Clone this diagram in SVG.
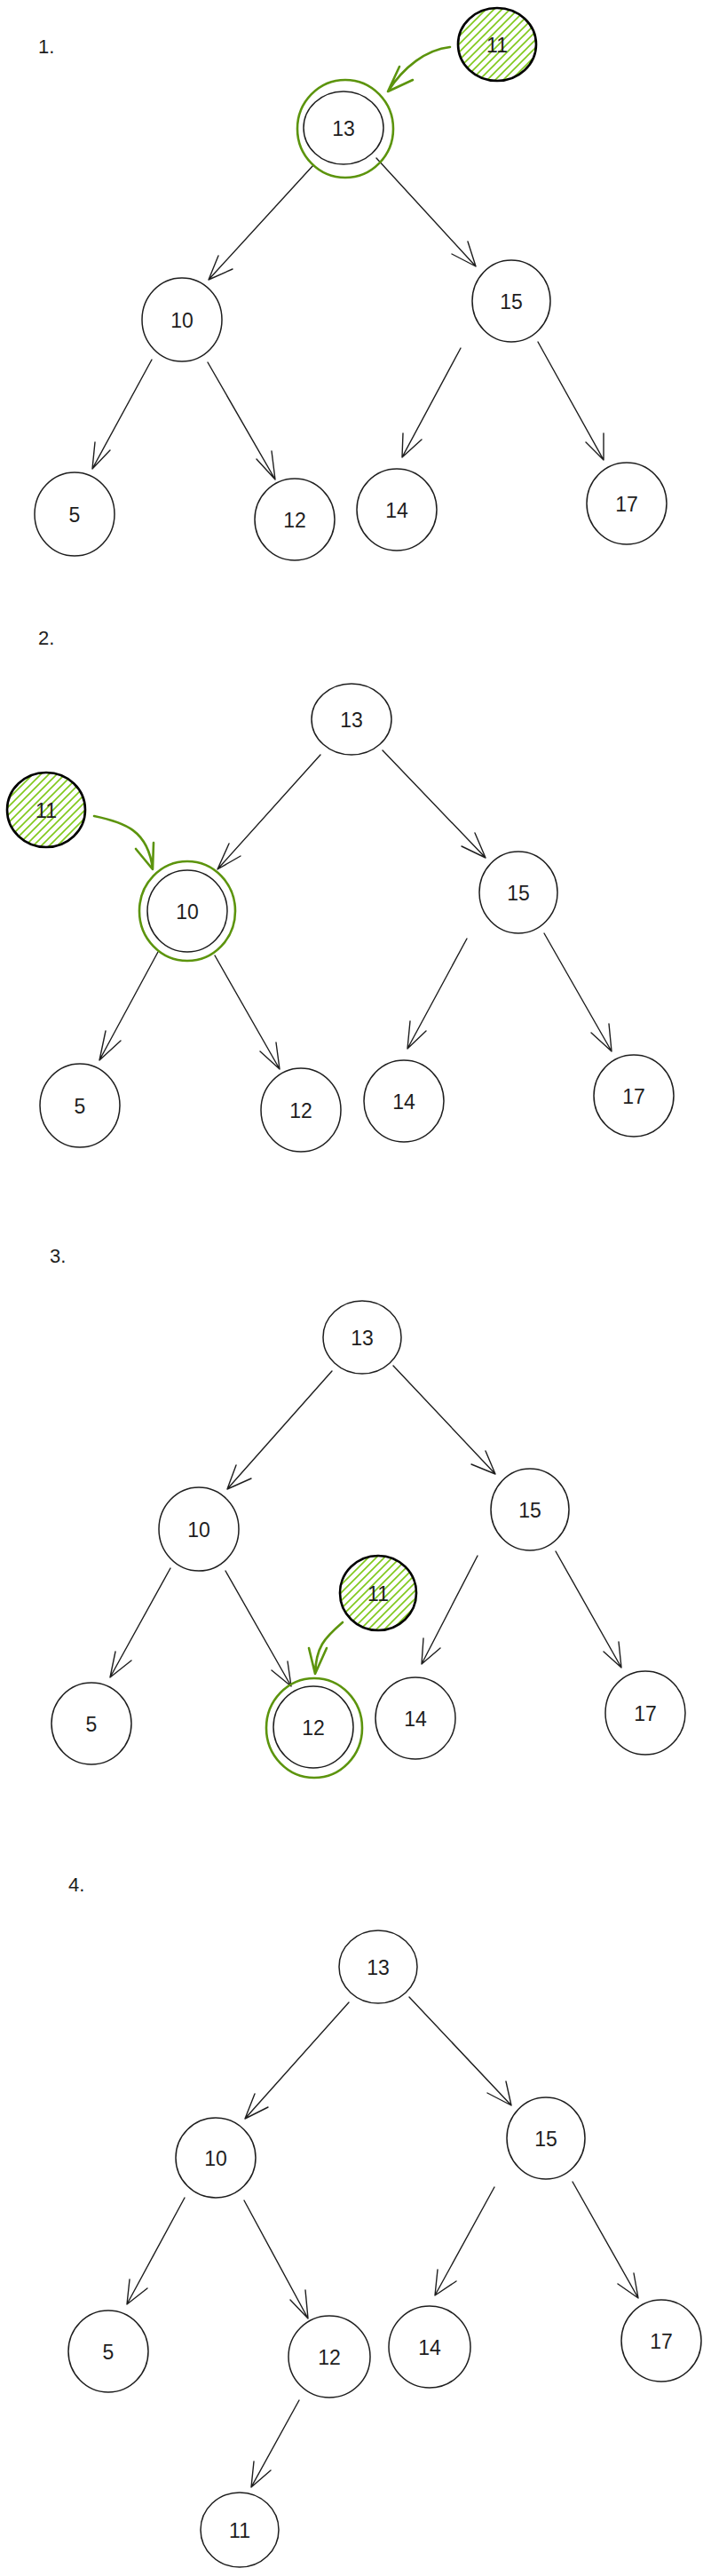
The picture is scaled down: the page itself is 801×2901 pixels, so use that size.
<svg xmlns="http://www.w3.org/2000/svg" width="801" height="2901" viewBox="0 0 801 2901">
<defs>
<pattern id="hatch" patternUnits="userSpaceOnUse" width="9" height="9">
<path d="M-2,2 L2,-2 M0,9 L9,0 M7,11 L11,7" stroke="#82c91e" stroke-width="1.7"/>
</pattern>
</defs>
<style>
.n{fill:#fff;stroke:#1e1e1e;stroke-width:1.5}
.h{fill:url(#hatch);stroke:#000;stroke-width:2.6}
.ring{fill:none;stroke:#5c940d;stroke-width:2.6}
.e{fill:none;stroke:#1e1e1e;stroke-width:1.4;stroke-linecap:round;stroke-linejoin:round}
.g{fill:none;stroke:#5c940d;stroke-width:2.6;stroke-linecap:round;stroke-linejoin:round}
.t{font-family:"Liberation Sans",Arial,sans-serif;font-size:23px;fill:#1e1e1e;text-anchor:middle;dominant-baseline:central}
.lb{font-family:"Liberation Sans",Arial,sans-serif;font-size:22px;fill:#1e1e1e}
</style>
<rect width="801" height="2901" fill="#fff"/>
<g id="labels">
<text class="lb" x="43" y="60">1.</text>
<text class="lb" x="43" y="726">2.</text>
<text class="lb" x="56" y="1422">3.</text>
<text class="lb" x="77" y="2130">4.</text>
</g>
<g id="connectors">
<path class="e" d="M353,186 L235,315 M246,288 L235,315 L262,303"/>
<path class="e" d="M424,178 L536,300 M527,272 L536,300 L509,286"/>
<path class="e" d="M171,405 L104,528 M107,498 L104,528 L124,507"/>
<path class="e" d="M234,408 L310,540 M306,508 L310,540 L289,517"/>
<path class="e" d="M519,392 L453,515 M454,488 L453,515 L475,495"/>
<path class="e" d="M606,385 L680,518 M680,488 L680,518 L660,498"/>
<path class="g" d="M507,53 C480,56 455,75 437,103 M450,75 L437,103 L465,90"/>
<path class="e" d="M361,850 L245,979 M258,950 L245,979 L271,964"/>
<path class="e" d="M431,845 L547,966 M535,938 L547,966 L520,953"/>
<path class="e" d="M178,1072 L112,1194 M119,1161 L112,1194 L136,1172"/>
<path class="e" d="M242,1076 L315,1204 M311,1174 L315,1204 L293,1184"/>
<path class="e" d="M526,1057 L459,1181 M462,1150 L459,1181 L480,1161"/>
<path class="e" d="M613,1051 L689,1184 M686,1153 L689,1184 L666,1163"/>
<path class="g" d="M106,919 C140,926 167,935 172,979 M173,949 L172,979 L153,956"/>
<path class="e" d="M374,1544 L256,1677 M266,1650 L256,1677 L283,1665"/>
<path class="e" d="M443,1538 L558,1660 M547,1634 L558,1660 L531,1649"/>
<path class="e" d="M192,1766 L124,1889 M130,1860 L124,1889 L148,1870"/>
<path class="e" d="M254,1769 L328,1899 M324,1871 L328,1899 L306,1881"/>
<path class="e" d="M538,1752 L475,1874 M477,1845 L475,1874 L496,1856"/>
<path class="e" d="M626,1747 L700,1878 M697,1849 L700,1878 L680,1860"/>
<path class="g" d="M386,1827 C365,1845 356,1855 355,1885 M348,1856 L355,1885 L368,1856"/>
<path class="e" d="M393,2255 L276,2386 M287,2358 L276,2386 L302,2373"/>
<path class="e" d="M461,2249 L576,2371 M570,2344 L576,2371 L549,2357"/>
<path class="e" d="M208,2475 L143,2595 M146,2567 L143,2595 L166,2577"/>
<path class="e" d="M275,2478 L347,2611 M344,2579 L347,2611 L327,2590"/>
<path class="e" d="M557,2463 L490,2585 M493,2556 L490,2585 L514,2569"/>
<path class="e" d="M645,2457 L719,2588 M714,2560 L719,2588 L696,2572"/>
<path class="e" d="M337,2703 L283,2801 M286,2772 L283,2801 L305,2782"/>
</g>
<g id="p1-13"><ellipse class="ring" cx="389" cy="145" rx="54" ry="55"/><ellipse class="n" cx="387" cy="144" rx="45" ry="41"/><text class="t" x="387" y="145">13</text></g>
<g id="p1-11"><ellipse class="h" cx="560" cy="50" rx="44" ry="41"/><text class="t" x="560" y="51">11</text></g>
<g id="p1-10"><ellipse class="n" cx="205" cy="360" rx="45" ry="47"/><text class="t" x="205" y="361">10</text></g>
<g id="p1-15"><ellipse class="n" cx="576" cy="339" rx="44" ry="46"/><text class="t" x="576" y="340">15</text></g>
<g id="p1-5"><ellipse class="n" cx="84" cy="579" rx="45" ry="47"/><text class="t" x="84" y="580">5</text></g>
<g id="p1-12"><ellipse class="n" cx="332" cy="585" rx="45" ry="46"/><text class="t" x="332" y="586">12</text></g>
<g id="p1-14"><ellipse class="n" cx="447" cy="574" rx="45" ry="46"/><text class="t" x="447" y="575">14</text></g>
<g id="p1-17"><ellipse class="n" cx="706" cy="567" rx="45" ry="46"/><text class="t" x="706" y="568">17</text></g>
<g id="p2-13"><ellipse class="n" cx="396" cy="810" rx="45" ry="40"/><text class="t" x="396" y="811">13</text></g>
<g id="p2-11"><ellipse class="h" cx="52" cy="912" rx="44" ry="42"/><text class="t" x="52" y="913">11</text></g>
<g id="p2-10"><ellipse class="ring" cx="211" cy="1026" rx="54" ry="56"/><ellipse class="n" cx="211" cy="1026" rx="45" ry="46"/><text class="t" x="211" y="1027">10</text></g>
<g id="p2-15"><ellipse class="n" cx="584" cy="1005" rx="44" ry="46"/><text class="t" x="584" y="1006">15</text></g>
<g id="p2-5"><ellipse class="n" cx="90" cy="1245" rx="45" ry="47"/><text class="t" x="90" y="1246">5</text></g>
<g id="p2-12"><ellipse class="n" cx="339" cy="1250" rx="45" ry="47"/><text class="t" x="339" y="1251">12</text></g>
<g id="p2-14"><ellipse class="n" cx="455" cy="1240" rx="45" ry="46"/><text class="t" x="455" y="1241">14</text></g>
<g id="p2-17"><ellipse class="n" cx="714" cy="1234" rx="45" ry="46"/><text class="t" x="714" y="1235">17</text></g>
<g id="p3-13"><ellipse class="n" cx="408" cy="1506" rx="44" ry="41"/><text class="t" x="408" y="1507">13</text></g>
<g id="p3-10"><ellipse class="n" cx="224" cy="1722" rx="45" ry="47"/><text class="t" x="224" y="1723">10</text></g>
<g id="p3-15"><ellipse class="n" cx="597" cy="1700" rx="44" ry="46"/><text class="t" x="597" y="1701">15</text></g>
<g id="p3-11"><ellipse class="h" cx="426" cy="1794" rx="43" ry="42"/><text class="t" x="426" y="1795">11</text></g>
<g id="p3-5"><ellipse class="n" cx="103" cy="1941" rx="45" ry="46"/><text class="t" x="103" y="1942">5</text></g>
<g id="p3-12"><ellipse class="ring" cx="354" cy="1946" rx="54" ry="56"/><ellipse class="n" cx="353" cy="1945" rx="45" ry="46"/><text class="t" x="353" y="1946">12</text></g>
<g id="p3-14"><ellipse class="n" cx="468" cy="1935" rx="45" ry="46"/><text class="t" x="468" y="1936">14</text></g>
<g id="p3-17"><ellipse class="n" cx="727" cy="1929" rx="45" ry="47"/><text class="t" x="727" y="1930">17</text></g>
<g id="p4-13"><ellipse class="n" cx="426" cy="2215" rx="44" ry="41"/><text class="t" x="426" y="2216">13</text></g>
<g id="p4-10"><ellipse class="n" cx="243" cy="2430" rx="45" ry="45"/><text class="t" x="243" y="2431">10</text></g>
<g id="p4-15"><ellipse class="n" cx="615" cy="2408" rx="44" ry="46"/><text class="t" x="615" y="2409">15</text></g>
<g id="p4-5"><ellipse class="n" cx="122" cy="2648" rx="45" ry="46"/><text class="t" x="122" y="2649">5</text></g>
<g id="p4-12"><ellipse class="n" cx="371" cy="2654" rx="46" ry="46"/><text class="t" x="371" y="2655">12</text></g>
<g id="p4-14"><ellipse class="n" cx="484" cy="2643" rx="46" ry="46"/><text class="t" x="484" y="2644">14</text></g>
<g id="p4-17"><ellipse class="n" cx="745" cy="2636" rx="45" ry="46"/><text class="t" x="745" y="2637">17</text></g>
<g id="p4-11"><ellipse class="n" cx="270" cy="2849" rx="44" ry="42"/><text class="t" x="270" y="2850">11</text></g>
</svg>
